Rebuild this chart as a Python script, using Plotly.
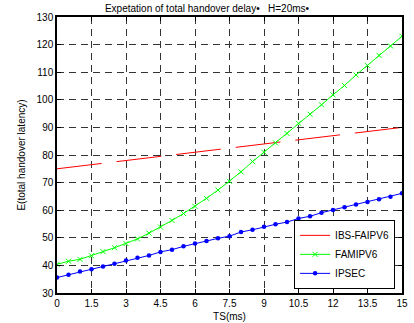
import plotly.graph_objects as go

ts = [i * 0.5 for i in range(31)]

ibs_faipv6 = [75.0, 75.5, 76.0, 76.5, 77.0, 77.5, 78.0, 78.5, 79.0, 79.5, 80.0,
              80.5, 81.0, 81.5, 82.0, 82.5, 83.0, 83.5, 84.0, 84.5, 85.0,
              85.5, 86.0, 86.5, 87.0, 87.5, 88.0, 88.5, 89.0, 89.5, 90.0]

famipv6 = [40.4, 41.5, 42.2, 43.5, 45.0, 46.4, 47.9, 49.6, 51.7, 53.9, 56.3,
           58.8, 61.4, 64.3, 67.3, 70.5, 73.9, 77.6, 81.0, 84.4, 87.8,
           91.5, 94.8, 98.2, 101.8, 105.2, 109.0, 112.4, 116.1, 119.5, 123.0]

ipsec = [35.6, 36.6, 37.8, 38.6, 39.6, 40.6, 41.8, 42.8, 43.6, 44.9, 45.7,
         46.9, 47.9, 48.8, 49.8, 50.6, 52.1, 52.9, 54.0, 54.9, 55.7,
         57.0, 57.8, 59.1, 60.1, 61.1, 62.1, 63.0, 64.0, 64.9, 66.1]

x_ticks = [0, 1.5, 3, 4.5, 6, 7.5, 9, 10.5, 12, 13.5, 15]
x_tick_labels = ["0", "1.5", "3", "4.5", "6", "7.5", "9", "10.5", "12", "13.5", "15"]
y_ticks = [30, 40, 50, 60, 70, 80, 90, 100, 110, 120, 130]

FONT = "Arial, Liberation Sans, Helvetica, sans-serif"

fig = go.Figure()
fig.add_trace(go.Scatter(
    x=ts, y=ibs_faipv6, mode="lines", name="IBS-FAIPV6",
    line=dict(color="#ff0000", width=1, dash="45px,15px"),
))
fig.add_trace(go.Scatter(
    x=ts, y=famipv6, mode="lines+markers", name="FAMIPV6",
    line=dict(color="#00ff00", width=1),
    marker=dict(symbol="x-thin-open", size=5, color="#00ff00",
                line=dict(color="#00ff00", width=1)),
))
fig.add_trace(go.Scatter(
    x=ts, y=ipsec, mode="lines+markers", name="IPSEC",
    line=dict(color="#0000ff", width=1),
    marker=dict(symbol="circle", size=4.5, color="#0000ff"),
))

axis_common = dict(
    showline=True, linecolor="black", linewidth=1.5, mirror="allticks",
    ticks="inside", ticklen=4, tickcolor="black", tickwidth=1,
    showgrid=True, gridcolor="#333333", gridwidth=1, griddash="7px,5px",
    zeroline=False, automargin=False,
    tickfont=dict(family=FONT, size=10, color="black"),
)

fig.update_xaxes(
    range=[0, 15], tickvals=x_ticks, ticktext=x_tick_labels,
    title=dict(text="TS(ms)", font=dict(family=FONT, size=10, color="black"), standoff=5),
    **axis_common,
)
fig.update_yaxes(
    range=[30, 130], tickvals=y_ticks,
    title=dict(text="E(total handover latency)", font=dict(family=FONT, size=10, color="black"), standoff=9),
    **axis_common,
)

fig.update_layout(
    width=414, height=323,
    margin=dict(l=57, r=12, t=17, b=30),
    paper_bgcolor="white", plot_bgcolor="white",
    title=dict(text="Expetation of total handover delay\u2022   H=20ms\u2022",
               x=0.5, xanchor="center", y=0.975, yanchor="middle",
               font=dict(family=FONT, size=10, color="black")),
    legend=dict(x=0.98, y=0.015, xanchor="right", yanchor="bottom",
                bgcolor="white", bordercolor="black", borderwidth=1,
                font=dict(family=FONT, size=10, color="black"),
                tracegroupgap=0, itemwidth=30),
    showlegend=True,
)

fig.write_html("out.html",
               config={"displayModeBar": False},
               post_script="document.body.style.margin='0px';document.body.style.padding='0px';")
